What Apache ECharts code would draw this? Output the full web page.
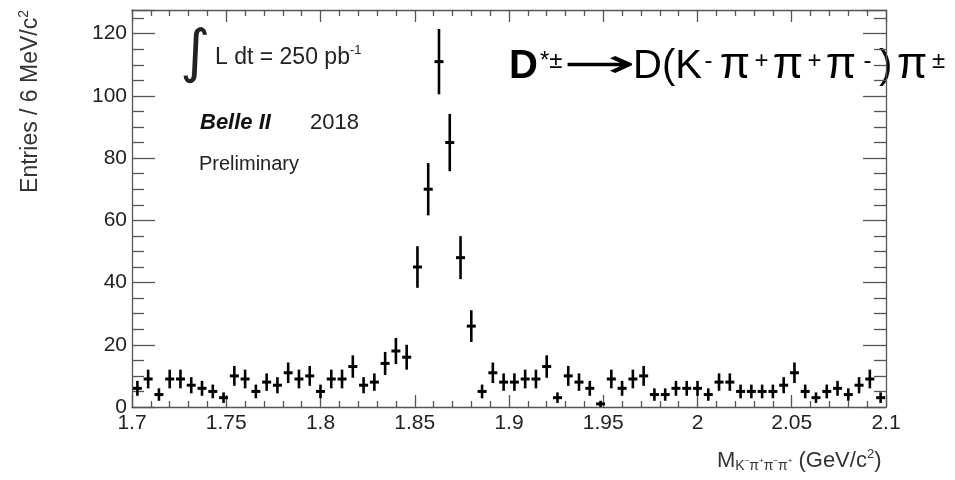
<!DOCTYPE html>
<html><head><meta charset="utf-8">
<script src="https://cdn.jsdelivr.net/npm/echarts@6/dist/echarts.min.js"></script>
<style>html,body{margin:0;padding:0;background:#fff}#c{width:955px;height:480px}</style>
</head><body><div id="c"></div>
<script>
// Bin centres (GeV/c^2)
const binCenters = [
 1.702857,1.708571,1.714286,1.720000,1.725714,1.731429,1.737143,1.742857,1.748571,1.754286,
 1.760000,1.765714,1.771429,1.777143,1.782857,1.788571,1.794286,1.800000,1.805714,1.811429,
 1.817143,1.822857,1.828571,1.834286,1.840000,1.845714,1.851429,1.857143,1.862857,1.868571,
 1.874286,1.880000,1.885714,1.891429,1.897143,1.902857,1.908571,1.914286,1.920000,1.925714,
 1.931429,1.937143,1.942857,1.948571,1.954286,1.960000,1.965714,1.971429,1.977143,1.982857,
 1.988571,1.994286,2.000000,2.005714,2.011429,2.017143,2.022857,2.028571,2.034286,2.040000,
 2.045714,2.051429,2.057143,2.062857,2.068571,2.074286,2.080000,2.085714,2.091429,2.097143];
// Entries per bin
const counts = [
 6,9,4,9,9,7,6,5,3,10,
 9,5,8,7,11,9,10,5,9,9,
 13,7,8,14,18,16,45,70,111,85,
 48,26,5,11,8,8,9,9,13,3,
 10,8,6,1,9,6,9,10,4,4,
 6,6,6,4,8,8,5,5,5,5,
 7,11,5,3,5,6,4,7,9,3];
// Statistical uncertainty per bin
const errors = [
 2.4,3,2,3,3,2.6,2.4,2.2,1.7,3.2,
 3,2.2,2.8,2.6,3.3,3,3.2,2.2,3,3,
 3.6,2.6,2.8,3.7,4.2,4,6.7,8.4,10.5,9.2,
 6.9,5.1,2.2,3.3,2.8,2.8,3,3,3.6,1.7,
 3.2,2.8,2.4,1,3,2.4,3,3.2,2,2,
 2.4,2.4,2.4,2,2.8,2.8,2.2,2.2,2.2,2.2,
 2.6,3.3,2.2,1.7,2.2,2.4,2,2.6,3,1.7];
const xTickLabels = ['1.7','1.75','1.8','1.85','1.9','1.95','2','2.05','2.1'];
const yTickLabels = ['0','20','40','60','80','100','120'];

const FONT = 'Liberation Sans, Arial, Helvetica, sans-serif';
const AX = '#555';
const chart = echarts.init(document.getElementById('c'), null, {renderer:'canvas'});

function xAxisCfg(pos, labels){
  return {
    type:'value', min:1.7, max:2.1, interval:0.05, position:pos,
    axisLine:{show:true, onZero:false, lineStyle:{color:AX, width:1.3}},
    axisTick:{show:true, inside:true, length:12, lineStyle:{color:AX, width:1.3}},
    minorTick:{show:true, splitNumber:5, length:6, lineStyle:{color:AX, width:1.3}},
    splitLine:{show:false}, minorSplitLine:{show:false},
    axisLabel:{show:labels, fontSize:21, color:'#222', fontFamily:FONT, margin:6,
      formatter:(v)=>{const k=Math.round((v-1.7)/0.05); return (Math.abs(v-1.7-k*0.05)<1e-6 && xTickLabels[k]!==undefined)?xTickLabels[k]:'';}}
  };
}
function yAxisCfg(pos, labels){
  return {
    type:'value', min:0, max:127.6, interval:20, position:pos,
    axisLine:{show:true, onZero:false, lineStyle:{color:AX, width:1.3}},
    axisTick:{show:true, inside:true, length:23, lineStyle:{color:AX, width:1.3}},
    minorTick:{show:true, splitNumber:4, length:12, lineStyle:{color:AX, width:1.3}},
    splitLine:{show:false}, minorSplitLine:{show:false},
    axisLabel:{show:labels, showMaxLabel:false, fontSize:21, color:'#222', fontFamily:FONT, margin:5,
      formatter:(v)=>{const k=Math.round(v/20); return (Math.abs(v-k*20)<1e-6 && yTickLabels[k]!==undefined)?yTickLabels[k]:'';}}
  };
}

const supS = {fontSize:24, fontFamily:FONT, fill:'#000', verticalAlign:'middle', align:'center', width:13, padding:[0,0,12,0]};

chart.setOption({
  animation:false,
  backgroundColor:'#fff',
  grid:{left:132, right:69, top:10, bottom:73, containLabel:false},
  xAxis:[xAxisCfg('bottom', true), xAxisCfg('top', false)],
  yAxis:[yAxisCfg('left', true), yAxisCfg('right', false)],
  series:[{
    type:'custom', xAxisIndex:0, yAxisIndex:0, clip:false,
    encode:{x:0, y:1},
    data: counts.map((c,i)=>[binCenters[i], c, errors[i]]),
    renderItem:(params, api)=>{
      const x=api.value(0), y=api.value(1), e=api.value(2);
      const p=api.coord([x,y]);
      const lo=api.coord([x, Math.max(0, y-e)]);
      const hi=api.coord([x, y+e]);
      return {type:'group', children:[
        {type:'line', shape:{x1:p[0], y1:lo[1], x2:p[0], y2:hi[1]}, style:{stroke:'#000', lineWidth:2.6}},
        {type:'line', shape:{x1:p[0]-4.5, y1:p[1], x2:p[0]+4.5, y2:p[1]}, style:{stroke:'#000', lineWidth:3}}
      ]};
    }
  }],
  graphic:[
    // y-axis title
    {type:'text', x:31, y:10, rotation:Math.PI/2, silent:true,
      style:{text:'Entries / 6 MeV/c{s|2}', fontSize:23, fontFamily:FONT, fill:'#333', align:'right', verticalAlign:'middle',
        rich:{s:{fontSize:14, fontFamily:FONT, fill:'#333', verticalAlign:'middle', padding:[0,0,13,0]}}}},
    // x-axis title
    {type:'text', x:717, y:461, silent:true,
      style:{text:'M{sub|K}{ss|−}{sub|π}{ss|+}{sub|π}{ss|−}{sub|π}{ss|+} (GeV/c{sup|2})', fontSize:22, fontFamily:FONT, fill:'#333', align:'left', verticalAlign:'middle',
        rich:{
          sub:{fontSize:14, fontFamily:FONT, fill:'#333', verticalAlign:'middle', padding:[10,0,0,0]},
          ss:{fontSize:8, fontFamily:FONT, fill:'#333', verticalAlign:'middle', padding:[0,0,0,0]},
          sup:{fontSize:13, fontFamily:FONT, fill:'#333', verticalAlign:'middle', padding:[0,0,13,0]}
        }}},
    // Integrated luminosity
    {type:'text', x:195, y:56, silent:true,
      style:{text:'∫', fontSize:58, fontFamily:'DejaVu Sans', fill:'#222', align:'center', verticalAlign:'middle'}},
    {type:'text', x:215, y:58, silent:true,
      style:{text:'L dt = 250 pb{s|-1}', fontSize:23, fontFamily:FONT, fill:'#222', align:'left', verticalAlign:'middle',
        rich:{s:{fontSize:13, fontFamily:FONT, fill:'#222', verticalAlign:'middle', padding:[0,0,16,0]}}}},
    {type:'text', x:200, y:123, silent:true,
      style:{text:'Belle II', fontSize:22, fontFamily:FONT, fontWeight:'bold', fontStyle:'italic', fill:'#111', align:'left', verticalAlign:'middle'}},
    {type:'text', x:310, y:123, silent:true,
      style:{text:'2018', fontSize:22, fontFamily:FONT, fill:'#222', align:'left', verticalAlign:'middle'}},
    {type:'text', x:199, y:164, silent:true,
      style:{text:'Preliminary', fontSize:20, fontFamily:FONT, fill:'#222', align:'left', verticalAlign:'middle'}},
    // Decay title
    {type:'text', x:509, y:67, silent:true,
      style:{text:'{b|D}{s|*±}', fontSize:40, fontFamily:FONT, fill:'#000', align:'left', verticalAlign:'middle',
        rich:{b:{fontSize:40, fontWeight:'bold', fontFamily:FONT, fill:'#000', verticalAlign:'middle'},
              s:{fontSize:24, fontFamily:FONT, fill:'#000', verticalAlign:'middle', padding:[0,0,12,2]}}}},
    {type:'text', x:563, y:67, scaleX:2.2, silent:true,
      style:{text:'→', fontSize:40, fontFamily:'DejaVu Sans', fill:'#000', align:'left', verticalAlign:'middle'}},
    {type:'text', x:633, y:67, silent:true,
      style:{text:'D(K{s|-}{p|π}{s|+}{p|π}{s|+}{p|π}{s|-}{n|)}{p|π}{s|±}', fontSize:40, fontFamily:FONT, fill:'#000', align:'left', verticalAlign:'middle',
        rich:{s:supS,
          p:{fontSize:44, fontFamily:FONT, fill:'#000', verticalAlign:'middle', align:'center', width:40, padding:[0,0,3,0]},
          n:{fontSize:40, fontFamily:FONT, fill:'#000', verticalAlign:'middle', padding:[0,0,0,5]}}}}
  ]
});
</script></body></html>
